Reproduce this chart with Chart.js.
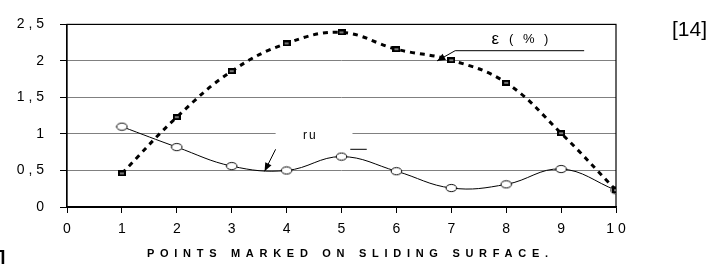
<!DOCTYPE html>
<html>
<head>
<meta charset="utf-8">
<script src="https://cdn.jsdelivr.net/npm/chart.js@4/dist/chart.umd.min.js"></script>
<style>
  html, body { margin: 0; padding: 0; background: #fff; }
  #wrap { width: 722px; height: 264px; }
</style>
</head>
<body>
<div id="wrap"><canvas id="chart" width="722" height="264"></canvas></div>
<script>
// Data
const points = [1, 2, 3, 4, 5, 6, 7, 8, 9, 10];
const epsilon = [0.46, 1.23, 1.86, 2.24, 2.39, 2.16, 2.01, 1.70, 1.01, 0.23];
const ru = [1.10, 0.82, 0.56, 0.50, 0.69, 0.49, 0.26, 0.31, 0.52, 0.23];
const yTickLabels = { 0: '0', 0.5: '0 , 5', 1: '1', 1.5: '1 , 5', 2: '2', 2.5: '2 , 5' };
const xTickLabels = ['0', '1', '2', '3', '4', '5', '6', '7', '8', '9', '1 0'];
const xTitle = 'POINTS MARKED ON SLIDING SURFACE.';

const FONT = '"Liberation Sans", Arial, sans-serif';

// hollow ellipse marker for ru
function ellipseMarker() {
    const c = document.createElement('canvas');
    c.width = 13; c.height = 10;
    const g = c.getContext('2d');
    g.beginPath();
    g.ellipse(6.5, 5, 5.3, 3.6, 0, 0, Math.PI * 2);
    g.fillStyle = '#fff';
    g.fill();
    g.lineWidth = 1;
    g.strokeStyle = '#000';
    g.stroke();
    return c;
}

// small square marker for epsilon
function squareMarker() {
    const c = document.createElement('canvas');
    c.width = 8; c.height = 6;
    const g = c.getContext('2d');
    g.fillStyle = '#000';
    g.fillRect(0, 0, 8, 6);
    g.fillStyle = '#777';
    g.fillRect(2, 2, 4, 2);
    return c;
}

function arrow(ctx, x1, y1, x2, y2) {
    ctx.beginPath();
    ctx.moveTo(x1, y1);
    ctx.lineTo(x2, y2);
    ctx.stroke();
    const a = Math.atan2(y2 - y1, x2 - x1);
    const L = 9, W = 0.4;
    ctx.beginPath();
    ctx.moveTo(x2, y2);
    ctx.lineTo(x2 - L * Math.cos(a - W), y2 - L * Math.sin(a - W));
    ctx.lineTo(x2 - L * Math.cos(a + W), y2 - L * Math.sin(a + W));
    ctx.closePath();
    ctx.fill();
}

const decorations = {
    id: 'decorations',
    beforeDatasetsDraw(chart) {
        const { ctx, chartArea, scales } = chart;
        const x = scales.x, y = scales.y;
        ctx.save();
        // gap in the gridline behind the "ru" label
        ctx.fillStyle = '#fff';
        ctx.fillRect(x.getPixelForValue(3.8), y.getPixelForValue(1.07), x.getPixelForValue(5.2) - x.getPixelForValue(3.8), 14);
        // frame
        ctx.strokeStyle = '#000';
        ctx.lineWidth = 1.2;
        ctx.strokeRect(chartArea.left, chartArea.top, chartArea.right - chartArea.left, chartArea.bottom - chartArea.top);
        ctx.restore();
    },
    afterDraw(chart) {
        const { ctx, scales } = chart;
        const x = scales.x, y = scales.y;
        ctx.save();
        ctx.fillStyle = '#000';
        ctx.strokeStyle = '#000';
        ctx.lineWidth = 1;

        // epsilon label
        ctx.font = '17px ' + FONT;
        ctx.textBaseline = 'middle';
        ctx.textAlign = 'left';
        ctx.fillText('ε', x.getPixelForValue(7.73), y.getPixelForValue(2.29));
        ctx.font = '13px ' + FONT;
        ctx.letterSpacing = '3px';
        ctx.fillText('( % )', x.getPixelForValue(8.05), y.getPixelForValue(2.29));
        ctx.letterSpacing = '0px';
        ctx.beginPath();
        ctx.moveTo(x.getPixelForValue(9.42), y.getPixelForValue(2.14));
        ctx.lineTo(x.getPixelForValue(7.07), y.getPixelForValue(2.14));
        ctx.stroke();
        arrow(ctx, x.getPixelForValue(7.07), y.getPixelForValue(2.14), x.getPixelForValue(6.74), y.getPixelForValue(2.0));

        // ru label
        ctx.font = '12px ' + FONT;
        ctx.letterSpacing = '2px';
        ctx.fillText('ru', x.getPixelForValue(4.3), y.getPixelForValue(0.97));
        ctx.letterSpacing = '0px';
        ctx.beginPath();
        ctx.moveTo(x.getPixelForValue(5.16), y.getPixelForValue(0.79));
        ctx.lineTo(x.getPixelForValue(5.46), y.getPixelForValue(0.79));
        ctx.stroke();
        arrow(ctx, x.getPixelForValue(3.8), y.getPixelForValue(0.79), x.getPixelForValue(3.6), y.getPixelForValue(0.49));

        // x axis title, stretched to the width seen in the reference
        ctx.font = 'bold 11px ' + FONT;
        const plain = ctx.measureText(xTitle).width;
        const spacing = (401 - plain) / (xTitle.length - 1);
        ctx.letterSpacing = spacing + 'px';
        ctx.textAlign = 'left';
        ctx.textBaseline = 'middle';
        ctx.fillText(xTitle, 147, 254);
        ctx.letterSpacing = '0px';

        // reference mark
        ctx.font = '21px ' + FONT;
        ctx.textAlign = 'left';
        ctx.fillText('[14]', 672, 30);
        ctx.font = '30px ' + FONT;
        ctx.textBaseline = 'alphabetic';
        ctx.fillText(']', -2, 272);
        ctx.restore();
    }
};

const ctx = document.getElementById('chart').getContext('2d');
new Chart(ctx, {
    type: 'scatter',
    data: {
        datasets: [{
            label: 'ε (%)',
            data: points.map((p, i) => ({ x: p, y: epsilon[i] })),
            showLine: true,
            borderColor: '#000',
            borderWidth: 3,
            borderDash: [5, 5],
            tension: 0.4,
            pointStyle: squareMarker(),
            pointRadius: 4
        }, {
            label: 'ru',
            data: points.map((p, i) => ({ x: p, y: ru[i] })),
            showLine: true,
            borderColor: '#000',
            borderWidth: 1,
            tension: 0.4,
            pointStyle: ellipseMarker(),
            pointRadius: 5
        }]
    },
    options: {
        responsive: false,
        animation: false,
        layout: { padding: { left: 0, right: 106, top: 18, bottom: 0 } },
        plugins: { legend: { display: false }, tooltip: { enabled: false } },
        scales: {
            x: {
                type: 'linear',
                min: 0,
                max: 10,
                afterFit: scale => { scale.height = 57; },
                afterBuildTicks: scale => {
                    scale.ticks = xTickLabels.map((t, i) => ({ value: i }));
                },
                border: { display: true, color: '#000', width: 1.2 },
                grid: { drawOnChartArea: false, drawTicks: true, tickLength: 6, color: '#000' },
                ticks: {
                    color: '#000',
                    padding: 8,
                    font: { family: FONT, size: 14 },
                    maxRotation: 0,
                    autoSkip: false,
                    callback: (v) => xTickLabels[v]
                }
            },
            y: {
                min: 0,
                max: 2.5,
                afterFit: scale => { scale.width = 67; },
                afterBuildTicks: scale => {
                    scale.ticks = Object.keys(yTickLabels).map(v => ({ value: Number(v) }));
                },
                border: { display: true, color: '#000', width: 1.2 },
                grid: {
                    drawTicks: true,
                    tickLength: 7,
                    tickColor: '#000',
                    color: c => (c.tick && (c.tick.value === 0 || c.tick.value === 2.5)) ? '#000' : '#808080'
                },
                ticks: {
                    color: '#000',
                    padding: 16,
                    font: { family: FONT, size: 14 },
                    callback: (v) => yTickLabels[v]
                }
            }
        }
    },
    plugins: [decorations]
});
</script>
</body>
</html>
